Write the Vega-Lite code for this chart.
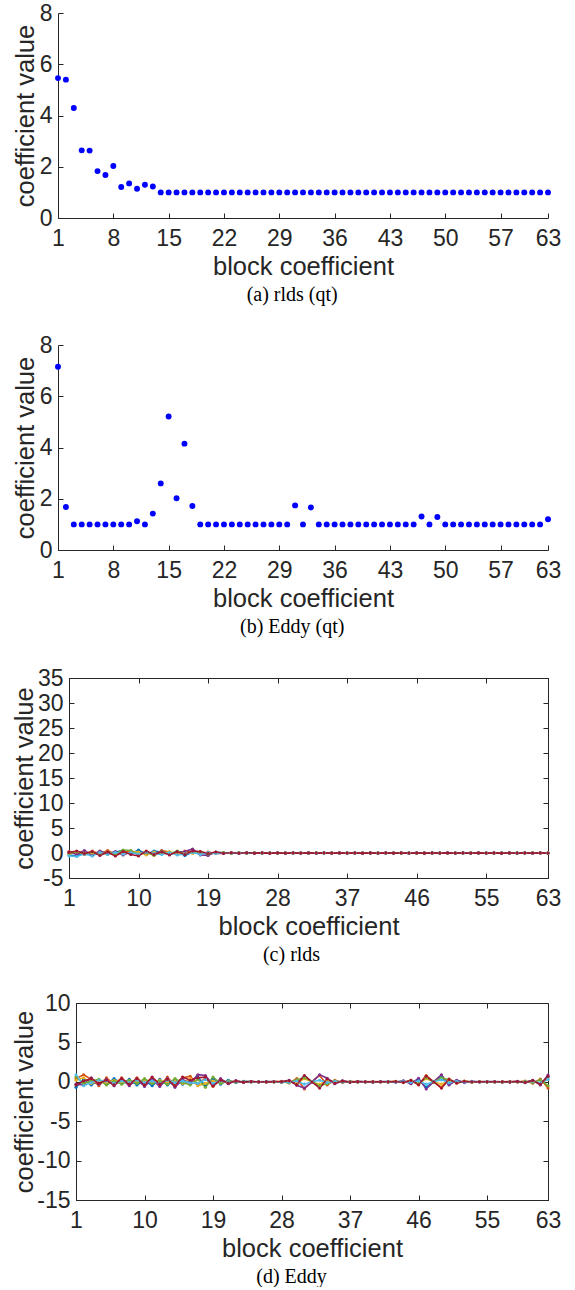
{
  "$schema": "https://vega.github.io/schema/vega-lite/v6.json",
  "padding": {"left": 0, "top": 2, "right": 0, "bottom": 0},
  "spacing": 29,
  "vconcat": [
   {
    "spacing": 29,
    "vconcat": [
    {
      "hconcat": [
        {"width": 58, "height": 10, "data": {"values": []}, "mark": {"type": "point", "opacity": 0}, "encoding": {}},
        {
          "width": 490, "height": 205,
          "title": {"text": "(a) rlds (qt)"},
          "data": {"values": [
            {"x":1,"y":5.46},{"x":2,"y":5.4},{"x":3,"y":4.29},{"x":4,"y":2.64},{"x":5,"y":2.63},{"x":6,"y":1.83},{"x":7,"y":1.68},{"x":8,"y":2.03},{"x":9,"y":1.21},{"x":10,"y":1.35},
            {"x":11,"y":1.14},{"x":12,"y":1.3},{"x":13,"y":1.23},{"x":14,"y":1},{"x":15,"y":1},{"x":16,"y":1},{"x":17,"y":1},{"x":18,"y":1},{"x":19,"y":1},{"x":20,"y":1},
            {"x":21,"y":1},{"x":22,"y":1},{"x":23,"y":1},{"x":24,"y":1},{"x":25,"y":1},{"x":26,"y":1},{"x":27,"y":1},{"x":28,"y":1},{"x":29,"y":1},{"x":30,"y":1},
            {"x":31,"y":1},{"x":32,"y":1},{"x":33,"y":1},{"x":34,"y":1},{"x":35,"y":1},{"x":36,"y":1},{"x":37,"y":1},{"x":38,"y":1},{"x":39,"y":1},{"x":40,"y":1},
            {"x":41,"y":1},{"x":42,"y":1},{"x":43,"y":1},{"x":44,"y":1},{"x":45,"y":1},{"x":46,"y":1},{"x":47,"y":1},{"x":48,"y":1},{"x":49,"y":1},{"x":50,"y":1},
            {"x":51,"y":1},{"x":52,"y":1},{"x":53,"y":1},{"x":54,"y":1},{"x":55,"y":1},{"x":56,"y":1},{"x":57,"y":1},{"x":58,"y":1},{"x":59,"y":1},{"x":60,"y":1},
            {"x":61,"y":1},{"x":62,"y":1},{"x":63,"y":1}
          ]},
          "mark": {"type": "circle", "color": "#0000FF", "size": 35, "opacity": 1},
          "encoding": {
            "x": {"field": "x", "type": "quantitative", "scale": {"domain": [1, 63], "nice": false, "zero": false},
                  "axis": {"values": [1,8,15,22,29,36,43,50,57,63], "title": "block coefficient", "titleY": 56}},
            "y": {"field": "y", "type": "quantitative", "scale": {"domain": [0, 8], "nice": false},
                  "axis": {"values": [0,2,4,6,8], "title": "coefficient value", "titleX": -24.4}}
          }
        }
      ],
      "spacing": 0,
      "bounds": "flush"
    },
    {
      "hconcat": [
        {"width": 58, "height": 10, "data": {"values": []}, "mark": {"type": "point", "opacity": 0}, "encoding": {}},
        {
          "width": 490, "height": 205,
          "title": {"text": "(b) Eddy (qt)"},
          "data": {"values": [
            {"x":1,"y":7.15},{"x":2,"y":1.68},{"x":3,"y":1},{"x":4,"y":1},{"x":5,"y":1},{"x":6,"y":1},{"x":7,"y":1},{"x":8,"y":1},{"x":9,"y":1},{"x":10,"y":1},
            {"x":11,"y":1.12},{"x":12,"y":1},{"x":13,"y":1.42},{"x":14,"y":2.6},{"x":15,"y":5.21},{"x":16,"y":2.02},{"x":17,"y":4.15},{"x":18,"y":1.72},{"x":19,"y":1},{"x":20,"y":1},
            {"x":21,"y":1},{"x":22,"y":1},{"x":23,"y":1},{"x":24,"y":1},{"x":25,"y":1},{"x":26,"y":1},{"x":27,"y":1},{"x":28,"y":1},{"x":29,"y":1},{"x":30,"y":1},
            {"x":31,"y":1.74},{"x":32,"y":1},{"x":33,"y":1.66},{"x":34,"y":1},{"x":35,"y":1},{"x":36,"y":1},{"x":37,"y":1},{"x":38,"y":1},{"x":39,"y":1},{"x":40,"y":1},
            {"x":41,"y":1},{"x":42,"y":1},{"x":43,"y":1},{"x":44,"y":1},{"x":45,"y":1},{"x":46,"y":1},{"x":47,"y":1.31},{"x":48,"y":1},{"x":49,"y":1.29},{"x":50,"y":1},
            {"x":51,"y":1},{"x":52,"y":1},{"x":53,"y":1},{"x":54,"y":1},{"x":55,"y":1},{"x":56,"y":1},{"x":57,"y":1},{"x":58,"y":1},{"x":59,"y":1},{"x":60,"y":1},
            {"x":61,"y":1},{"x":62,"y":1},{"x":63,"y":1.2}
          ]},
          "mark": {"type": "circle", "color": "#0000FF", "size": 35, "opacity": 1},
          "encoding": {
            "x": {"field": "x", "type": "quantitative", "scale": {"domain": [1, 63], "nice": false, "zero": false},
                  "axis": {"values": [1,8,15,22,29,36,43,50,57,63], "title": "block coefficient", "titleY": 56}},
            "y": {"field": "y", "type": "quantitative", "scale": {"domain": [0, 8], "nice": false},
                  "axis": {"values": [0,2,4,6,8], "title": "coefficient value", "titleX": -24.4}}
          }
        }
      ],
      "spacing": 0,
      "bounds": "flush"
    }
    ]
   },
   {
    "spacing": 26,
    "vconcat": [
    {
      "hconcat": [
        {"width": 69, "height": 10, "data": {"values": []}, "mark": {"type": "point", "opacity": 0}, "encoding": {}},
        {
          "width": 479, "height": 200,
          "title": {"text": "(c) rlds"},
          "view": {"stroke": "#262626", "strokeWidth": 1},
          "data": {"values": [
{"s":1,"x":1,"y":-0.4},{"s":1,"x":2,"y":-0.6},{"s":1,"x":3,"y":0.2},{"s":1,"x":4,"y":-0.3},{"s":1,"x":5,"y":0.3},{"s":1,"x":6,"y":-0.1},{"s":1,"x":7,"y":0.2},{"s":1,"x":8,"y":0.5},{"s":1,"x":9,"y":-0.2},{"s":1,"x":10,"y":0.6},
{"s":1,"x":11,"y":-0.3},{"s":1,"x":12,"y":0.4},{"s":1,"x":13,"y":0.2},{"s":1,"x":14,"y":-0.3},{"s":1,"x":15,"y":0.3},{"s":1,"x":16,"y":-0.5},{"s":1,"x":17,"y":0.2},{"s":1,"x":18,"y":0.1},{"s":1,"x":19,"y":-0.3},{"s":1,"x":20,"y":0.1},
{"s":1,"x":21,"y":0.1},{"s":1,"x":22,"y":-0.1},{"s":1,"x":23,"y":0.08},{"s":1,"x":24,"y":-0.05},{"s":1,"x":25,"y":0.05},{"s":1,"x":26,"y":-0.05},{"s":1,"x":27,"y":0.03},{"s":1,"x":28,"y":-0.03},{"s":1,"x":29,"y":0.04},{"s":1,"x":30,"y":-0.04},
{"s":1,"x":31,"y":0.03},{"s":1,"x":32,"y":-0.03},{"s":1,"x":33,"y":0.04},{"s":1,"x":34,"y":-0.02},{"s":1,"x":35,"y":0.02},{"s":1,"x":36,"y":-0.03},{"s":1,"x":37,"y":0.03},{"s":1,"x":38,"y":-0.02},{"s":1,"x":39,"y":0.02},{"s":1,"x":40,"y":-0.02},
{"s":1,"x":41,"y":0.02},{"s":1,"x":42,"y":-0.03},{"s":1,"x":43,"y":0.03},{"s":1,"x":44,"y":-0.02},{"s":1,"x":45,"y":0.02},{"s":1,"x":46,"y":-0.02},{"s":1,"x":47,"y":0.03},{"s":1,"x":48,"y":-0.03},{"s":1,"x":49,"y":0.02},{"s":1,"x":50,"y":-0.02},
{"s":1,"x":51,"y":0.02},{"s":1,"x":52,"y":-0.03},{"s":1,"x":53,"y":0.02},{"s":1,"x":54,"y":-0.02},{"s":1,"x":55,"y":0.03},{"s":1,"x":56,"y":-0.02},{"s":1,"x":57,"y":0.02},{"s":1,"x":58,"y":-0.02},{"s":1,"x":59,"y":0.03},{"s":1,"x":60,"y":-0.02},
{"s":1,"x":61,"y":0.02},{"s":1,"x":62,"y":-0.02},{"s":1,"x":63,"y":0.02},
{"s":2,"x":1,"y":0.3},{"s":2,"x":2,"y":0.2},{"s":2,"x":3,"y":-0.3},{"s":2,"x":4,"y":0.4},{"s":2,"x":5,"y":-0.2},{"s":2,"x":6,"y":0.5},{"s":2,"x":7,"y":-0.3},{"s":2,"x":8,"y":0.2},{"s":2,"x":9,"y":0.4},{"s":2,"x":10,"y":-0.2},
{"s":2,"x":11,"y":0.3},{"s":2,"x":12,"y":-0.4},{"s":2,"x":13,"y":0.5},{"s":2,"x":14,"y":0.2},{"s":2,"x":15,"y":-0.2},{"s":2,"x":16,"y":0.4},{"s":2,"x":17,"y":0.3},{"s":2,"x":18,"y":-0.2},{"s":2,"x":19,"y":0.2},{"s":2,"x":20,"y":-0.1},
{"s":2,"x":21,"y":-0.08},{"s":2,"x":22,"y":0.06},{"s":2,"x":23,"y":-0.05},{"s":2,"x":24,"y":0.06},{"s":2,"x":25,"y":-0.04},{"s":2,"x":26,"y":0.03},{"s":2,"x":27,"y":-0.04},{"s":2,"x":28,"y":0.05},{"s":2,"x":29,"y":-0.03},{"s":2,"x":30,"y":0.02},
{"s":2,"x":31,"y":-0.03},{"s":2,"x":32,"y":0.04},{"s":2,"x":33,"y":-0.02},{"s":2,"x":34,"y":0.03},{"s":2,"x":35,"y":-0.03},{"s":2,"x":36,"y":0.02},{"s":2,"x":37,"y":-0.02},{"s":2,"x":38,"y":0.03},{"s":2,"x":39,"y":-0.02},{"s":2,"x":40,"y":0.02},
{"s":2,"x":41,"y":-0.03},{"s":2,"x":42,"y":0.02},{"s":2,"x":43,"y":-0.02},{"s":2,"x":44,"y":0.03},{"s":2,"x":45,"y":-0.02},{"s":2,"x":46,"y":0.02},{"s":2,"x":47,"y":-0.03},{"s":2,"x":48,"y":0.02},{"s":2,"x":49,"y":-0.02},{"s":2,"x":50,"y":0.03},
{"s":2,"x":51,"y":-0.02},{"s":2,"x":52,"y":0.02},{"s":2,"x":53,"y":-0.02},{"s":2,"x":54,"y":0.03},{"s":2,"x":55,"y":-0.02},{"s":2,"x":56,"y":0.02},{"s":2,"x":57,"y":-0.03},{"s":2,"x":58,"y":0.02},{"s":2,"x":59,"y":-0.02},{"s":2,"x":60,"y":0.03},
{"s":2,"x":61,"y":-0.02},{"s":2,"x":62,"y":0.02},{"s":2,"x":63,"y":-0.02},
{"s":3,"x":1,"y":-0.2},{"s":3,"x":2,"y":0.1},{"s":3,"x":3,"y":0.3},{"s":3,"x":4,"y":-0.2},{"s":3,"x":5,"y":0.2},{"s":3,"x":6,"y":-0.3},{"s":3,"x":7,"y":0.1},{"s":3,"x":8,"y":-0.2},{"s":3,"x":9,"y":0.3},{"s":3,"x":10,"y":0.2},
{"s":3,"x":11,"y":-0.4},{"s":3,"x":12,"y":0.2},{"s":3,"x":13,"y":-0.1},{"s":3,"x":14,"y":0.3},{"s":3,"x":15,"y":-0.3},{"s":3,"x":16,"y":0.1},{"s":3,"x":17,"y":-0.1},{"s":3,"x":18,"y":0.2},{"s":3,"x":19,"y":-0.1},{"s":3,"x":20,"y":0.05},
{"s":3,"x":21,"y":0.05},{"s":3,"x":22,"y":-0.03},{"s":3,"x":23,"y":0.04},{"s":3,"x":24,"y":-0.02},{"s":3,"x":25,"y":0.02},{"s":3,"x":26,"y":-0.03},{"s":3,"x":27,"y":0.02},{"s":3,"x":28,"y":-0.02},{"s":3,"x":29,"y":0.03},{"s":3,"x":30,"y":-0.02},
{"s":3,"x":31,"y":0.02},{"s":3,"x":32,"y":-0.02},{"s":3,"x":33,"y":0.02},{"s":3,"x":34,"y":-0.01},{"s":3,"x":35,"y":0.02},{"s":3,"x":36,"y":-0.02},{"s":3,"x":37,"y":0.01},{"s":3,"x":38,"y":-0.02},{"s":3,"x":39,"y":0.02},{"s":3,"x":40,"y":-0.01},
{"s":3,"x":41,"y":0.02},{"s":3,"x":42,"y":-0.01},{"s":3,"x":43,"y":0.02},{"s":3,"x":44,"y":-0.02},{"s":3,"x":45,"y":0.01},{"s":3,"x":46,"y":-0.02},{"s":3,"x":47,"y":0.02},{"s":3,"x":48,"y":-0.01},{"s":3,"x":49,"y":0.02},{"s":3,"x":50,"y":-0.02},
{"s":3,"x":51,"y":0.01},{"s":3,"x":52,"y":-0.02},{"s":3,"x":53,"y":0.02},{"s":3,"x":54,"y":-0.01},{"s":3,"x":55,"y":0.02},{"s":3,"x":56,"y":-0.02},{"s":3,"x":57,"y":0.01},{"s":3,"x":58,"y":-0.02},{"s":3,"x":59,"y":0.02},{"s":3,"x":60,"y":-0.01},
{"s":3,"x":61,"y":0.02},{"s":3,"x":62,"y":-0.02},{"s":3,"x":63,"y":0.01},
{"s":4,"x":1,"y":0.2},{"s":4,"x":2,"y":-0.3},{"s":4,"x":3,"y":0.5},{"s":4,"x":4,"y":-0.5},{"s":4,"x":5,"y":0.4},{"s":4,"x":6,"y":-0.2},{"s":4,"x":7,"y":0.3},{"s":4,"x":8,"y":-0.4},{"s":4,"x":9,"y":0.2},{"s":4,"x":10,"y":-0.3},
{"s":4,"x":11,"y":0.2},{"s":4,"x":12,"y":-0.2},{"s":4,"x":13,"y":0.4},{"s":4,"x":14,"y":-0.3},{"s":4,"x":15,"y":0.2},{"s":4,"x":16,"y":0.3},{"s":4,"x":17,"y":0.8},{"s":4,"x":18,"y":-0.4},{"s":4,"x":19,"y":-0.5},{"s":4,"x":20,"y":0.2},
{"s":4,"x":21,"y":-0.1},{"s":4,"x":22,"y":0.08},{"s":4,"x":23,"y":-0.06},{"s":4,"x":24,"y":0.05},{"s":4,"x":25,"y":-0.04},{"s":4,"x":26,"y":0.04},{"s":4,"x":27,"y":-0.03},{"s":4,"x":28,"y":0.03},{"s":4,"x":29,"y":-0.04},{"s":4,"x":30,"y":0.03},
{"s":4,"x":31,"y":-0.02},{"s":4,"x":32,"y":0.03},{"s":4,"x":33,"y":-0.03},{"s":4,"x":34,"y":0.02},{"s":4,"x":35,"y":-0.02},{"s":4,"x":36,"y":0.03},{"s":4,"x":37,"y":-0.02},{"s":4,"x":38,"y":0.02},{"s":4,"x":39,"y":-0.03},{"s":4,"x":40,"y":0.02},
{"s":4,"x":41,"y":-0.02},{"s":4,"x":42,"y":0.02},{"s":4,"x":43,"y":-0.03},{"s":4,"x":44,"y":0.02},{"s":4,"x":45,"y":-0.02},{"s":4,"x":46,"y":0.03},{"s":4,"x":47,"y":-0.02},{"s":4,"x":48,"y":0.02},{"s":4,"x":49,"y":-0.02},{"s":4,"x":50,"y":0.03},
{"s":4,"x":51,"y":-0.02},{"s":4,"x":52,"y":0.02},{"s":4,"x":53,"y":-0.03},{"s":4,"x":54,"y":0.02},{"s":4,"x":55,"y":-0.02},{"s":4,"x":56,"y":0.02},{"s":4,"x":57,"y":-0.03},{"s":4,"x":58,"y":0.02},{"s":4,"x":59,"y":-0.02},{"s":4,"x":60,"y":0.03},
{"s":4,"x":61,"y":-0.02},{"s":4,"x":62,"y":0.02},{"s":4,"x":63,"y":-0.02},
{"s":5,"x":1,"y":-0.1},{"s":5,"x":2,"y":0.3},{"s":5,"x":3,"y":-0.2},{"s":5,"x":4,"y":0.2},{"s":5,"x":5,"y":-0.3},{"s":5,"x":6,"y":0.2},{"s":5,"x":7,"y":-0.2},{"s":5,"x":8,"y":0.6},{"s":5,"x":9,"y":0.5},{"s":5,"x":10,"y":-0.3},
{"s":5,"x":11,"y":0.2},{"s":5,"x":12,"y":-0.5},{"s":5,"x":13,"y":0.3},{"s":5,"x":14,"y":-0.2},{"s":5,"x":15,"y":0.4},{"s":5,"x":16,"y":-0.2},{"s":5,"x":17,"y":0.1},{"s":5,"x":18,"y":0.3},{"s":5,"x":19,"y":-0.2},{"s":5,"x":20,"y":0.1},
{"s":5,"x":21,"y":0.06},{"s":5,"x":22,"y":-0.05},{"s":5,"x":23,"y":0.04},{"s":5,"x":24,"y":-0.03},{"s":5,"x":25,"y":0.03},{"s":5,"x":26,"y":-0.02},{"s":5,"x":27,"y":0.03},{"s":5,"x":28,"y":-0.03},{"s":5,"x":29,"y":0.02},{"s":5,"x":30,"y":-0.02},
{"s":5,"x":31,"y":0.03},{"s":5,"x":32,"y":-0.02},{"s":5,"x":33,"y":0.02},{"s":5,"x":34,"y":-0.02},{"s":5,"x":35,"y":0.02},{"s":5,"x":36,"y":-0.02},{"s":5,"x":37,"y":0.03},{"s":5,"x":38,"y":-0.02},{"s":5,"x":39,"y":0.02},{"s":5,"x":40,"y":-0.02},
{"s":5,"x":41,"y":0.02},{"s":5,"x":42,"y":-0.02},{"s":5,"x":43,"y":0.02},{"s":5,"x":44,"y":-0.03},{"s":5,"x":45,"y":0.02},{"s":5,"x":46,"y":-0.02},{"s":5,"x":47,"y":0.02},{"s":5,"x":48,"y":-0.02},{"s":5,"x":49,"y":0.03},{"s":5,"x":50,"y":-0.02},
{"s":5,"x":51,"y":0.02},{"s":5,"x":52,"y":-0.02},{"s":5,"x":53,"y":0.02},{"s":5,"x":54,"y":-0.02},{"s":5,"x":55,"y":0.03},{"s":5,"x":56,"y":-0.02},{"s":5,"x":57,"y":0.02},{"s":5,"x":58,"y":-0.02},{"s":5,"x":59,"y":0.02},{"s":5,"x":60,"y":-0.02},
{"s":5,"x":61,"y":0.03},{"s":5,"x":62,"y":-0.02},{"s":5,"x":63,"y":0.02},
{"s":6,"x":1,"y":-0.6},{"s":6,"x":2,"y":-0.7},{"s":6,"x":3,"y":-0.2},{"s":6,"x":4,"y":-0.6},{"s":6,"x":5,"y":0.1},{"s":6,"x":6,"y":-0.3},{"s":6,"x":7,"y":0.1},{"s":6,"x":8,"y":-0.2},{"s":6,"x":9,"y":0.1},{"s":6,"x":10,"y":-0.2},
{"s":6,"x":11,"y":0.2},{"s":6,"x":12,"y":-0.1},{"s":6,"x":13,"y":-0.3},{"s":6,"x":14,"y":0.1},{"s":6,"x":15,"y":-0.4},{"s":6,"x":16,"y":-0.2},{"s":6,"x":17,"y":0.1},{"s":6,"x":18,"y":-0.3},{"s":6,"x":19,"y":0.1},{"s":6,"x":20,"y":-0.1},
{"s":6,"x":21,"y":-0.05},{"s":6,"x":22,"y":0.03},{"s":6,"x":23,"y":-0.04},{"s":6,"x":24,"y":0.02},{"s":6,"x":25,"y":-0.03},{"s":6,"x":26,"y":0.02},{"s":6,"x":27,"y":-0.02},{"s":6,"x":28,"y":0.03},{"s":6,"x":29,"y":-0.02},{"s":6,"x":30,"y":0.02},
{"s":6,"x":31,"y":-0.02},{"s":6,"x":32,"y":0.02},{"s":6,"x":33,"y":-0.03},{"s":6,"x":34,"y":0.02},{"s":6,"x":35,"y":-0.02},{"s":6,"x":36,"y":0.02},{"s":6,"x":37,"y":-0.02},{"s":6,"x":38,"y":0.03},{"s":6,"x":39,"y":-0.02},{"s":6,"x":40,"y":0.02},
{"s":6,"x":41,"y":-0.02},{"s":6,"x":42,"y":0.02},{"s":6,"x":43,"y":-0.02},{"s":6,"x":44,"y":0.02},{"s":6,"x":45,"y":-0.03},{"s":6,"x":46,"y":0.02},{"s":6,"x":47,"y":-0.02},{"s":6,"x":48,"y":0.02},{"s":6,"x":49,"y":-0.02},{"s":6,"x":50,"y":0.03},
{"s":6,"x":51,"y":-0.02},{"s":6,"x":52,"y":0.02},{"s":6,"x":53,"y":-0.02},{"s":6,"x":54,"y":0.02},{"s":6,"x":55,"y":-0.02},{"s":6,"x":56,"y":0.03},{"s":6,"x":57,"y":-0.02},{"s":6,"x":58,"y":0.02},{"s":6,"x":59,"y":-0.02},{"s":6,"x":60,"y":0.02},
{"s":6,"x":61,"y":-0.03},{"s":6,"x":62,"y":0.02},{"s":6,"x":63,"y":-0.02},
{"s":7,"x":1,"y":0.1},{"s":7,"x":2,"y":0.4},{"s":7,"x":3,"y":-0.1},{"s":7,"x":4,"y":0.3},{"s":7,"x":5,"y":-0.5},{"s":7,"x":6,"y":0.2},{"s":7,"x":7,"y":-0.6},{"s":7,"x":8,"y":0.3},{"s":7,"x":9,"y":-0.3},{"s":7,"x":10,"y":-0.6},
{"s":7,"x":11,"y":0.4},{"s":7,"x":12,"y":-0.3},{"s":7,"x":13,"y":0.2},{"s":7,"x":14,"y":-0.4},{"s":7,"x":15,"y":0.3},{"s":7,"x":16,"y":-0.3},{"s":7,"x":17,"y":0.4},{"s":7,"x":18,"y":0.3},{"s":7,"x":19,"y":-0.1},{"s":7,"x":20,"y":0.2},
{"s":7,"x":21,"y":-0.06},{"s":7,"x":22,"y":0.05},{"s":7,"x":23,"y":-0.04},{"s":7,"x":24,"y":0.04},{"s":7,"x":25,"y":-0.03},{"s":7,"x":26,"y":0.03},{"s":7,"x":27,"y":-0.03},{"s":7,"x":28,"y":0.02},{"s":7,"x":29,"y":-0.03},{"s":7,"x":30,"y":0.03},
{"s":7,"x":31,"y":-0.02},{"s":7,"x":32,"y":0.02},{"s":7,"x":33,"y":-0.02},{"s":7,"x":34,"y":0.03},{"s":7,"x":35,"y":-0.02},{"s":7,"x":36,"y":0.02},{"s":7,"x":37,"y":-0.02},{"s":7,"x":38,"y":0.02},{"s":7,"x":39,"y":-0.03},{"s":7,"x":40,"y":0.02},
{"s":7,"x":41,"y":-0.02},{"s":7,"x":42,"y":0.03},{"s":7,"x":43,"y":-0.02},{"s":7,"x":44,"y":0.02},{"s":7,"x":45,"y":-0.02},{"s":7,"x":46,"y":0.02},{"s":7,"x":47,"y":-0.03},{"s":7,"x":48,"y":0.02},{"s":7,"x":49,"y":-0.02},{"s":7,"x":50,"y":0.02},
{"s":7,"x":51,"y":-0.02},{"s":7,"x":52,"y":0.03},{"s":7,"x":53,"y":-0.02},{"s":7,"x":54,"y":0.02},{"s":7,"x":55,"y":-0.02},{"s":7,"x":56,"y":0.02},{"s":7,"x":57,"y":-0.03},{"s":7,"x":58,"y":0.02},{"s":7,"x":59,"y":-0.02},{"s":7,"x":60,"y":0.02},
{"s":7,"x":61,"y":-0.02},{"s":7,"x":62,"y":0.03},{"s":7,"x":63,"y":-0.02}
          ]},
          "layer": [
            {
              "mark": {"type": "line", "strokeWidth": 1.6, "point": {"filled": true, "size": 10}},
              "encoding": {
                "x": {"field": "x", "type": "quantitative", "scale": {"domain": [1, 63], "nice": false, "zero": false},
                      "axis": {"values": [1,10,19,28,37,46,55,63], "title": "block coefficient", "titleY": 56}},
                "y": {"field": "y", "type": "quantitative", "scale": {"domain": [-5, 35], "nice": false, "zero": false},
                      "axis": {"values": [-5,0,5,10,15,20,25,30,35], "title": "coefficient value", "titleX": -36.7, "labelExpr": "'' + datum.value"}},
                "color": {"field": "s", "type": "nominal", "legend": null,
                          "scale": {"range": ["#0072BD","#D95319","#EDB120","#7E2F8E","#77AC30","#4DBEEE","#A2142F"]}}
              }
            },
            {
              "transform": [{"filter": "datum.s == 1 && datum.x == 1"}],
              "mark": {"type": "point", "opacity": 0},
              "encoding": {
                "x": {"field": "x", "type": "quantitative", "scale": {"domain": [1, 63], "nice": false, "zero": false},
                      "axis": {"orient": "top", "values": [1,10,19,28,37,46,55,63], "labels": false, "title": null, "domain": false}},
                "y": {"field": "y", "type": "quantitative", "scale": {"domain": [-5, 35], "nice": false, "zero": false},
                      "axis": {"orient": "right", "values": [-5,0,5,10,15,20,25,30,35], "labels": false, "title": null, "domain": false}}
              }
            }
          ],
          "resolve": {"axis": {"x": "independent", "y": "independent"}}
        }
      ],
      "spacing": 0,
      "bounds": "flush"
    },
    {
      "hconcat": [
        {"width": 76, "height": 10, "data": {"values": []}, "mark": {"type": "point", "opacity": 0}, "encoding": {}},
        {
          "width": 472, "height": 197,
          "title": {"text": "(d) Eddy"},
          "view": {"stroke": "#262626", "strokeWidth": 1},
          "data": {"values": [
{"s":1,"x":1,"y":-0.7},{"s":1,"x":2,"y":0.3},{"s":1,"x":3,"y":-0.4},{"s":1,"x":4,"y":0.2},{"s":1,"x":5,"y":-0.3},{"s":1,"x":6,"y":0.4},{"s":1,"x":7,"y":-0.2},{"s":1,"x":8,"y":0.3},{"s":1,"x":9,"y":-0.4},{"s":1,"x":10,"y":0.2},
{"s":1,"x":11,"y":-0.5},{"s":1,"x":12,"y":0.3},{"s":1,"x":13,"y":-0.4},{"s":1,"x":14,"y":0.2},{"s":1,"x":15,"y":-0.3},{"s":1,"x":16,"y":0.1},{"s":1,"x":17,"y":0.6},{"s":1,"x":18,"y":-0.5},{"s":1,"x":19,"y":0.4},{"s":1,"x":20,"y":-0.3},
{"s":1,"x":21,"y":0.2},{"s":1,"x":22,"y":-0.1},{"s":1,"x":23,"y":0.05},{"s":1,"x":24,"y":0.02},{"s":1,"x":25,"y":0},{"s":1,"x":26,"y":0.02},{"s":1,"x":27,"y":0},{"s":1,"x":28,"y":-0.05},{"s":1,"x":29,"y":0.1},{"s":1,"x":30,"y":-0.3},
{"s":1,"x":31,"y":0.7},{"s":1,"x":32,"y":0},{"s":1,"x":33,"y":-0.6},{"s":1,"x":34,"y":0.3},{"s":1,"x":35,"y":-0.15},{"s":1,"x":36,"y":0.08},{"s":1,"x":37,"y":-0.04},{"s":1,"x":38,"y":0.02},{"s":1,"x":39,"y":0},{"s":1,"x":40,"y":-0.02},
{"s":1,"x":41,"y":0},{"s":1,"x":42,"y":0.02},{"s":1,"x":43,"y":-0.04},{"s":1,"x":44,"y":0.08},{"s":1,"x":45,"y":-0.15},{"s":1,"x":46,"y":0.3},{"s":1,"x":47,"y":-0.7},{"s":1,"x":48,"y":0.02},{"s":1,"x":49,"y":0.6},{"s":1,"x":50,"y":-0.3},
{"s":1,"x":51,"y":0.15},{"s":1,"x":52,"y":-0.07},{"s":1,"x":53,"y":0.03},{"s":1,"x":54,"y":0},{"s":1,"x":55,"y":0.02},{"s":1,"x":56,"y":0},{"s":1,"x":57,"y":-0.02},{"s":1,"x":58,"y":0},{"s":1,"x":59,"y":0.03},{"s":1,"x":60,"y":-0.07},
{"s":1,"x":61,"y":0.15},{"s":1,"x":62,"y":-0.3},{"s":1,"x":63,"y":0.6},
{"s":2,"x":1,"y":0.4},{"s":2,"x":2,"y":0.9},{"s":2,"x":3,"y":0.3},{"s":2,"x":4,"y":-0.5},{"s":2,"x":5,"y":0.5},{"s":2,"x":6,"y":-0.3},{"s":2,"x":7,"y":0.5},{"s":2,"x":8,"y":-0.4},{"s":2,"x":9,"y":0.5},{"s":2,"x":10,"y":-0.3},
{"s":2,"x":11,"y":0.5},{"s":2,"x":12,"y":-0.5},{"s":2,"x":13,"y":0.6},{"s":2,"x":14,"y":-0.4},{"s":2,"x":15,"y":0.5},{"s":2,"x":16,"y":0.7},{"s":2,"x":17,"y":-0.3},{"s":2,"x":18,"y":0.5},{"s":2,"x":19,"y":-0.6},{"s":2,"x":20,"y":0.3},
{"s":2,"x":21,"y":-0.2},{"s":2,"x":22,"y":0.1},{"s":2,"x":23,"y":-0.05},{"s":2,"x":24,"y":0.02},{"s":2,"x":25,"y":0},{"s":2,"x":26,"y":-0.02},{"s":2,"x":27,"y":0.02},{"s":2,"x":28,"y":0.05},{"s":2,"x":29,"y":-0.15},{"s":2,"x":30,"y":0.4},
{"s":2,"x":31,"y":-0.9},{"s":2,"x":32,"y":0.03},{"s":2,"x":33,"y":0.8},{"s":2,"x":34,"y":-0.4},{"s":2,"x":35,"y":0.2},{"s":2,"x":36,"y":-0.1},{"s":2,"x":37,"y":0.05},{"s":2,"x":38,"y":-0.02},{"s":2,"x":39,"y":0},{"s":2,"x":40,"y":0.02},
{"s":2,"x":41,"y":0},{"s":2,"x":42,"y":-0.02},{"s":2,"x":43,"y":0.05},{"s":2,"x":44,"y":-0.1},{"s":2,"x":45,"y":0.2},{"s":2,"x":46,"y":-0.4},{"s":2,"x":47,"y":0.8},{"s":2,"x":48,"y":-0.03},{"s":2,"x":49,"y":-0.7},{"s":2,"x":50,"y":0.35},
{"s":2,"x":51,"y":-0.18},{"s":2,"x":52,"y":0.08},{"s":2,"x":53,"y":-0.04},{"s":2,"x":54,"y":0.02},{"s":2,"x":55,"y":0},{"s":2,"x":56,"y":-0.02},{"s":2,"x":57,"y":0},{"s":2,"x":58,"y":0.02},{"s":2,"x":59,"y":-0.04},{"s":2,"x":60,"y":0.08},
{"s":2,"x":61,"y":-0.18},{"s":2,"x":62,"y":0.35},{"s":2,"x":63,"y":-0.8},
{"s":3,"x":1,"y":0.2},{"s":3,"x":2,"y":0.5},{"s":3,"x":3,"y":-0.2},{"s":3,"x":4,"y":0.1},{"s":3,"x":5,"y":-0.1},{"s":3,"x":6,"y":0.2},{"s":3,"x":7,"y":-0.1},{"s":3,"x":8,"y":0.1},{"s":3,"x":9,"y":0},{"s":3,"x":10,"y":0.1},
{"s":3,"x":11,"y":-0.1},{"s":3,"x":12,"y":0.2},{"s":3,"x":13,"y":-0.1},{"s":3,"x":14,"y":0.1},{"s":3,"x":15,"y":-0.2},{"s":3,"x":16,"y":0.4},{"s":3,"x":17,"y":-0.5},{"s":3,"x":18,"y":-0.2},{"s":3,"x":19,"y":0.1},{"s":3,"x":20,"y":-0.1},
{"s":3,"x":21,"y":0.05},{"s":3,"x":22,"y":0.03},{"s":3,"x":23,"y":-0.02},{"s":3,"x":24,"y":0},{"s":3,"x":25,"y":0.01},{"s":3,"x":26,"y":0},{"s":3,"x":27,"y":-0.01},{"s":3,"x":28,"y":0.02},{"s":3,"x":29,"y":0.08},{"s":3,"x":30,"y":-0.2},
{"s":3,"x":31,"y":0.4},{"s":3,"x":32,"y":-0.02},{"s":3,"x":33,"y":-0.3},{"s":3,"x":34,"y":0.15},{"s":3,"x":35,"y":-0.08},{"s":3,"x":36,"y":0.04},{"s":3,"x":37,"y":-0.02},{"s":3,"x":38,"y":0},{"s":3,"x":39,"y":0.01},{"s":3,"x":40,"y":0},
{"s":3,"x":41,"y":-0.01},{"s":3,"x":42,"y":0},{"s":3,"x":43,"y":0.02},{"s":3,"x":44,"y":-0.05},{"s":3,"x":45,"y":0.1},{"s":3,"x":46,"y":-0.2},{"s":3,"x":47,"y":0.4},{"s":3,"x":48,"y":0.01},{"s":3,"x":49,"y":-0.3},{"s":3,"x":50,"y":0.15},
{"s":3,"x":51,"y":-0.07},{"s":3,"x":52,"y":0.03},{"s":3,"x":53,"y":-0.01},{"s":3,"x":54,"y":0},{"s":3,"x":55,"y":0.01},{"s":3,"x":56,"y":0},{"s":3,"x":57,"y":-0.01},{"s":3,"x":58,"y":0},{"s":3,"x":59,"y":0.02},{"s":3,"x":60,"y":-0.04},
{"s":3,"x":61,"y":0.08},{"s":3,"x":62,"y":-0.15},{"s":3,"x":63,"y":0.3},
{"s":4,"x":1,"y":-0.3},{"s":4,"x":2,"y":-0.4},{"s":4,"x":3,"y":0.5},{"s":4,"x":4,"y":-0.3},{"s":4,"x":5,"y":0.3},{"s":4,"x":6,"y":-0.5},{"s":4,"x":7,"y":0.3},{"s":4,"x":8,"y":-0.5},{"s":4,"x":9,"y":0.3},{"s":4,"x":10,"y":-0.6},
{"s":4,"x":11,"y":0.3},{"s":4,"x":12,"y":-0.6},{"s":4,"x":13,"y":0.4},{"s":4,"x":14,"y":-0.7},{"s":4,"x":15,"y":0.3},{"s":4,"x":16,"y":-0.2},{"s":4,"x":17,"y":0.9},{"s":4,"x":18,"y":0.8},{"s":4,"x":19,"y":-0.4},{"s":4,"x":20,"y":0.4},
{"s":4,"x":21,"y":-0.25},{"s":4,"x":22,"y":0.15},{"s":4,"x":23,"y":-0.08},{"s":4,"x":24,"y":0.04},{"s":4,"x":25,"y":-0.02},{"s":4,"x":26,"y":0},{"s":4,"x":27,"y":0.02},{"s":4,"x":28,"y":-0.04},{"s":4,"x":29,"y":0.2},{"s":4,"x":30,"y":-0.45},
{"s":4,"x":31,"y":-0.8},{"s":4,"x":32,"y":-0.03},{"s":4,"x":33,"y":0.9},{"s":4,"x":34,"y":0.45},{"s":4,"x":35,"y":-0.25},{"s":4,"x":36,"y":0.12},{"s":4,"x":37,"y":-0.06},{"s":4,"x":38,"y":0.03},{"s":4,"x":39,"y":0},{"s":4,"x":40,"y":-0.02},
{"s":4,"x":41,"y":0.02},{"s":4,"x":42,"y":0},{"s":4,"x":43,"y":-0.06},{"s":4,"x":44,"y":0.12},{"s":4,"x":45,"y":-0.25},{"s":4,"x":46,"y":0.45},{"s":4,"x":47,"y":-0.9},{"s":4,"x":48,"y":0.03},{"s":4,"x":49,"y":0.9},{"s":4,"x":50,"y":-0.4},
{"s":4,"x":51,"y":0.2},{"s":4,"x":52,"y":-0.1},{"s":4,"x":53,"y":0.05},{"s":4,"x":54,"y":-0.02},{"s":4,"x":55,"y":0},{"s":4,"x":56,"y":0.02},{"s":4,"x":57,"y":0},{"s":4,"x":58,"y":-0.03},{"s":4,"x":59,"y":0.05},{"s":4,"x":60,"y":-0.1},
{"s":4,"x":61,"y":0.2},{"s":4,"x":62,"y":-0.4},{"s":4,"x":63,"y":0.85},
{"s":5,"x":1,"y":0.6},{"s":5,"x":2,"y":-0.2},{"s":5,"x":3,"y":0.1},{"s":5,"x":4,"y":0.3},{"s":5,"x":5,"y":-0.4},{"s":5,"x":6,"y":0.1},{"s":5,"x":7,"y":-0.3},{"s":5,"x":8,"y":0.2},{"s":5,"x":9,"y":-0.2},{"s":5,"x":10,"y":0.4},
{"s":5,"x":11,"y":-0.2},{"s":5,"x":12,"y":0.1},{"s":5,"x":13,"y":-0.3},{"s":5,"x":14,"y":0.4},{"s":5,"x":15,"y":-0.1},{"s":5,"x":16,"y":-0.4},{"s":5,"x":17,"y":0.3},{"s":5,"x":18,"y":-0.7},{"s":5,"x":19,"y":0.6},{"s":5,"x":20,"y":-0.2},
{"s":5,"x":21,"y":0.1},{"s":5,"x":22,"y":-0.05},{"s":5,"x":23,"y":0.03},{"s":5,"x":24,"y":-0.01},{"s":5,"x":25,"y":0},{"s":5,"x":26,"y":0.01},{"s":5,"x":27,"y":0},{"s":5,"x":28,"y":-0.02},{"s":5,"x":29,"y":-0.1},{"s":5,"x":30,"y":0.25},
{"s":5,"x":31,"y":0.5},{"s":5,"x":32,"y":0.02},{"s":5,"x":33,"y":-0.5},{"s":5,"x":34,"y":-0.25},{"s":5,"x":35,"y":0.12},{"s":5,"x":36,"y":-0.06},{"s":5,"x":37,"y":0.03},{"s":5,"x":38,"y":-0.01},{"s":5,"x":39,"y":0},{"s":5,"x":40,"y":0.01},
{"s":5,"x":41,"y":0},{"s":5,"x":42,"y":-0.01},{"s":5,"x":43,"y":0.03},{"s":5,"x":44,"y":-0.06},{"s":5,"x":45,"y":0.12},{"s":5,"x":46,"y":-0.25},{"s":5,"x":47,"y":0.5},{"s":5,"x":48,"y":-0.02},{"s":5,"x":49,"y":0.5},{"s":5,"x":50,"y":0.25},
{"s":5,"x":51,"y":-0.12},{"s":5,"x":52,"y":0.06},{"s":5,"x":53,"y":-0.03},{"s":5,"x":54,"y":0.01},{"s":5,"x":55,"y":0},{"s":5,"x":56,"y":-0.01},{"s":5,"x":57,"y":0.01},{"s":5,"x":58,"y":0},{"s":5,"x":59,"y":-0.03},{"s":5,"x":60,"y":0.06},
{"s":5,"x":61,"y":-0.12},{"s":5,"x":62,"y":0.25},{"s":5,"x":63,"y":-0.5},
{"s":6,"x":1,"y":0.9},{"s":6,"x":2,"y":-0.5},{"s":6,"x":3,"y":-0.1},{"s":6,"x":4,"y":0.2},{"s":6,"x":5,"y":0.1},{"s":6,"x":6,"y":-0.2},{"s":6,"x":7,"y":0.1},{"s":6,"x":8,"y":-0.1},{"s":6,"x":9,"y":0.2},{"s":6,"x":10,"y":-0.1},
{"s":6,"x":11,"y":0.1},{"s":6,"x":12,"y":-0.2},{"s":6,"x":13,"y":0.2},{"s":6,"x":14,"y":-0.1},{"s":6,"x":15,"y":0.1},{"s":6,"x":16,"y":-0.1},{"s":6,"x":17,"y":-0.2},{"s":6,"x":18,"y":0.3},{"s":6,"x":19,"y":-0.2},{"s":6,"x":20,"y":0.1},
{"s":6,"x":21,"y":-0.05},{"s":6,"x":22,"y":0.02},{"s":6,"x":23,"y":0},{"s":6,"x":24,"y":-0.01},{"s":6,"x":25,"y":0},{"s":6,"x":26,"y":0.01},{"s":6,"x":27,"y":0},{"s":6,"x":28,"y":0.01},{"s":6,"x":29,"y":-0.05},{"s":6,"x":30,"y":0.1},
{"s":6,"x":31,"y":-0.3},{"s":6,"x":32,"y":0},{"s":6,"x":33,"y":0.2},{"s":6,"x":34,"y":-0.1},{"s":6,"x":35,"y":0.05},{"s":6,"x":36,"y":-0.02},{"s":6,"x":37,"y":0.01},{"s":6,"x":38,"y":0},{"s":6,"x":39,"y":0},{"s":6,"x":40,"y":0},
{"s":6,"x":41,"y":0},{"s":6,"x":42,"y":0},{"s":6,"x":43,"y":-0.01},{"s":6,"x":44,"y":0.02},{"s":6,"x":45,"y":-0.05},{"s":6,"x":46,"y":0.1},{"s":6,"x":47,"y":-0.3},{"s":6,"x":48,"y":0},{"s":6,"x":49,"y":0.25},{"s":6,"x":50,"y":-0.12},
{"s":6,"x":51,"y":0.06},{"s":6,"x":52,"y":-0.03},{"s":6,"x":53,"y":0.01},{"s":6,"x":54,"y":0},{"s":6,"x":55,"y":0},{"s":6,"x":56,"y":0},{"s":6,"x":57,"y":0},{"s":6,"x":58,"y":0},{"s":6,"x":59,"y":0.01},{"s":6,"x":60,"y":-0.03},
{"s":6,"x":61,"y":0.06},{"s":6,"x":62,"y":-0.12},{"s":6,"x":63,"y":0.3},
{"s":7,"x":1,"y":-0.4},{"s":7,"x":2,"y":0.1},{"s":7,"x":3,"y":0.4},{"s":7,"x":4,"y":-0.2},{"s":7,"x":5,"y":0.2},{"s":7,"x":6,"y":-0.4},{"s":7,"x":7,"y":0.4},{"s":7,"x":8,"y":-0.3},{"s":7,"x":9,"y":0.4},{"s":7,"x":10,"y":-0.4},
{"s":7,"x":11,"y":0.6},{"s":7,"x":12,"y":-0.3},{"s":7,"x":13,"y":0.3},{"s":7,"x":14,"y":-0.5},{"s":7,"x":15,"y":0.6},{"s":7,"x":16,"y":0.2},{"s":7,"x":17,"y":0.5},{"s":7,"x":18,"y":0.6},{"s":7,"x":19,"y":-0.5},{"s":7,"x":20,"y":0.2},
{"s":7,"x":21,"y":-0.15},{"s":7,"x":22,"y":0.08},{"s":7,"x":23,"y":-0.04},{"s":7,"x":24,"y":0.02},{"s":7,"x":25,"y":0},{"s":7,"x":26,"y":-0.01},{"s":7,"x":27,"y":0.01},{"s":7,"x":28,"y":0.03},{"s":7,"x":29,"y":0.12},{"s":7,"x":30,"y":-0.35},
{"s":7,"x":31,"y":0.8},{"s":7,"x":32,"y":-0.02},{"s":7,"x":33,"y":-0.8},{"s":7,"x":34,"y":0.35},{"s":7,"x":35,"y":-0.18},{"s":7,"x":36,"y":0.08},{"s":7,"x":37,"y":-0.04},{"s":7,"x":38,"y":0.02},{"s":7,"x":39,"y":0},{"s":7,"x":40,"y":-0.01},
{"s":7,"x":41,"y":0.01},{"s":7,"x":42,"y":0},{"s":7,"x":43,"y":0.04},{"s":7,"x":44,"y":-0.08},{"s":7,"x":45,"y":0.18},{"s":7,"x":46,"y":-0.35},{"s":7,"x":47,"y":0.7},{"s":7,"x":48,"y":-0.02},{"s":7,"x":49,"y":-0.8},{"s":7,"x":50,"y":0.3},
{"s":7,"x":51,"y":-0.15},{"s":7,"x":52,"y":0.07},{"s":7,"x":53,"y":-0.03},{"s":7,"x":54,"y":0.01},{"s":7,"x":55,"y":0},{"s":7,"x":56,"y":0.01},{"s":7,"x":57,"y":0},{"s":7,"x":58,"y":-0.01},{"s":7,"x":59,"y":0.03},{"s":7,"x":60,"y":-0.07},
{"s":7,"x":61,"y":0.15},{"s":7,"x":62,"y":-0.3},{"s":7,"x":63,"y":0.7}
          ]},
          "layer": [
            {
              "mark": {"type": "line", "strokeWidth": 1.6, "point": {"filled": true, "size": 10}},
              "encoding": {
                "x": {"field": "x", "type": "quantitative", "scale": {"domain": [1, 63], "nice": false, "zero": false},
                      "axis": {"values": [1,10,19,28,37,46,55,63], "title": "block coefficient", "titleY": 56}},
                "y": {"field": "y", "type": "quantitative", "scale": {"domain": [-15, 10], "nice": false, "zero": false},
                      "axis": {"values": [-15,-10,-5,0,5,10], "title": "coefficient value", "titleX": -43.7, "labelExpr": "'' + datum.value"}},
                "color": {"field": "s", "type": "nominal", "legend": null,
                          "scale": {"range": ["#0072BD","#D95319","#EDB120","#7E2F8E","#77AC30","#4DBEEE","#A2142F"]}}
              }
            },
            {
              "transform": [{"filter": "datum.s == 1 && datum.x == 1"}],
              "mark": {"type": "point", "opacity": 0},
              "encoding": {
                "x": {"field": "x", "type": "quantitative", "scale": {"domain": [1, 63], "nice": false, "zero": false},
                      "axis": {"orient": "top", "values": [1,10,19,28,37,46,55,63], "labels": false, "title": null, "domain": false}},
                "y": {"field": "y", "type": "quantitative", "scale": {"domain": [-15, 10], "nice": false, "zero": false},
                      "axis": {"orient": "right", "values": [-15,-10,-5,0,5,10], "labels": false, "title": null, "domain": false}}
              }
            }
          ],
          "resolve": {"axis": {"x": "independent", "y": "independent"}}
        }
      ],
      "spacing": 0,
      "bounds": "flush"
    }
    ]
   }
  ],
  "config": {
    "font": "Liberation Sans",
    "view": {"stroke": null},
    "axis": {
      "labelFont": "Liberation Sans", "labelFontSize": 23, "labelColor": "#262626",
      "titleFont": "Liberation Sans", "titleFontSize": 25.5, "titleFontWeight": "normal", "titleColor": "#262626",
      "domainColor": "#262626", "domainWidth": 1, "tickColor": "#262626", "tickWidth": 1, "tickSize": -5,
      "grid": false, "labelFlush": false, "labelOverlap": false, "titleBaseline": "alphabetic"
    },
    "axisX": {"labelBaseline": "alphabetic", "labelPadding": 32.5},
    "axisY": {"labelPadding": 11},
    "title": {"font": "Liberation Serif", "fontSize": 20, "fontWeight": "normal", "color": "#000000", "orient": "bottom", "frame": "bounds", "offset": 5, "baseline": "top", "dx": 5}
  }
}
